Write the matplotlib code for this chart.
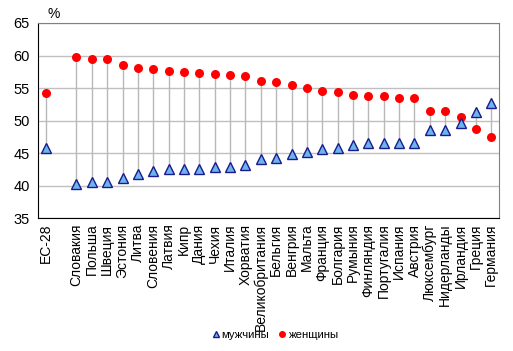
import matplotlib
matplotlib.use("Agg")
import matplotlib.pyplot as plt
from matplotlib.lines import Line2D

categories = ["ЕС-28", "", "Словакия", "Польша", "Швеция", "Эстония", "Литва", "Словения",
              "Латвия", "Кипр", "Дания", "Чехия", "Италия", "Хорватия", "Великобритания",
              "Бельгия", "Венгрия", "Мальта", "Франция", "Болгария", "Румыния", "Финляндия",
              "Португалия", "Испания", "Австрия", "Люксембург", "Нидерланды", "Ирландия",
              "Греция", "Германия"]
women = [54.3, None, 59.7, 59.4, 59.4, 58.6, 58.1, 57.9, 57.6, 57.5, 57.3, 57.1, 57.0, 56.8,
         56.1, 56.0, 55.4, 55.05, 54.6, 54.4, 54.0, 53.7, 53.7, 53.4, 53.4, 51.5, 51.4, 50.6,
         48.7, 47.5]
men = [45.8, None, 40.3, 40.6, 40.6, 41.2, 41.8, 42.2, 42.5, 42.6, 42.6, 42.9, 42.9, 43.2,
       44.1, 44.2, 44.8, 45.1, 45.6, 45.7, 46.2, 46.5, 46.5, 46.6, 46.6, 48.6, 48.6, 49.6,
       51.3, 52.7]

plt.rcParams['font.family'] = ['Liberation Sans', 'DejaVu Sans']
fig = plt.figure(figsize=(5.13, 3.51), dpi=100)
ax = fig.add_axes([38/513, 1-218/351, 461/513, 195/351])

xs = list(range(len(categories)))
for x, w, m in zip(xs, women, men):
    if w is None:
        continue
    ax.plot([x, x], [m, w], color='#b8b8b8', lw=1, zorder=2)
xw = [x for x, w in zip(xs, women) if w is not None]
ax.plot(xw, [w for w in women if w is not None], 'o', color='#ff0000', ms=6.5,
        markeredgewidth=0, zorder=4)
ax.plot(xw, [m for m in men if m is not None], '^', markerfacecolor='#6cb4ee',
        markeredgecolor='#1a1a8c', ms=7.5, markeredgewidth=1, zorder=4)

ax.set_xlim(-0.5, len(categories) - 0.5)
ax.set_ylim(35, 65)
ax.set_yticks(range(35, 66, 5))
ax.yaxis.grid(True, color='#c0c0c0', lw=1)
ax.set_axisbelow(True)
ax.set_xticks(xs)
ax.set_xticklabels(categories, rotation=90, fontsize=10)
ax.tick_params(axis='y', labelsize=10.5, length=0, pad=6)
ax.tick_params(axis='x', length=0, pad=4)
ax.spines['left'].set_color('black')
ax.spines['bottom'].set_color('black')
ax.spines['top'].set_color('#808080')
ax.spines['right'].set_color('#808080')
fig.text(48/513, 1-14/351, '%', fontsize=10, va='center', ha='left')

handles = [Line2D([], [], marker='^', ls='', markerfacecolor='#6cb4ee',
                  markeredgecolor='#1a1a8c', ms=4),
           Line2D([], [], marker='o', ls='', color='#ff0000', ms=4)]
fig.legend(handles, ['мужчины', 'женщины'], loc='center', bbox_to_anchor=(274/513, 1-335/351),
           ncol=2, frameon=False, fontsize=8.2, handletextpad=0.0, columnspacing=0.6,
           handlelength=1)
fig.savefig('out.png', dpi=100)
